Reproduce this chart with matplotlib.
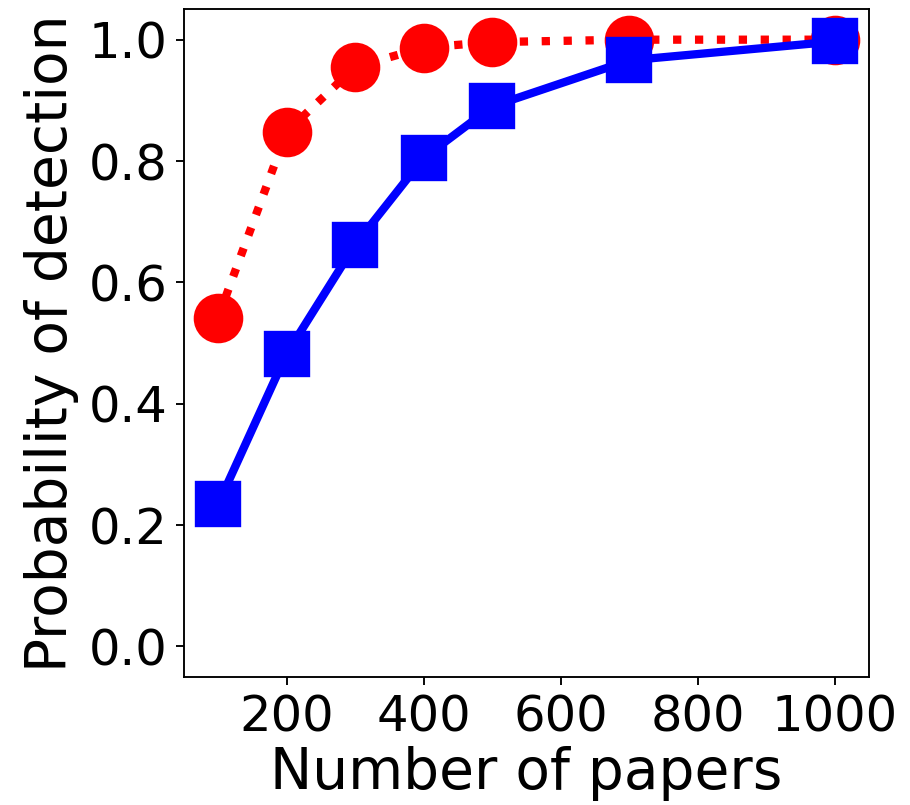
import matplotlib
matplotlib.use("Agg")
import matplotlib.pyplot as plt

n_papers = [100, 200, 300, 400, 500, 700, 1000]
prob_red = [0.542, 0.848, 0.955, 0.987, 0.996, 1.0, 1.0]
prob_blue = [0.234, 0.482, 0.662, 0.805, 0.890, 0.966, 0.997]

DPI = 170
fig = plt.figure(figsize=(911 / DPI, 805 / DPI), dpi=DPI)
ax = fig.add_axes([0.2017, 0.1594, 0.9542 - 0.2017, 0.9884 - 0.1594])

ax.plot(n_papers, prob_red, color='red', linestyle=':', linewidth=3.5,
        marker='o', markersize=20)
ax.plot(n_papers, prob_blue, color='blue', linestyle='-', linewidth=3.5,
        marker='s', markersize=18.5)

ax.set_xlim(50, 1050)
ax.set_ylim(-0.05, 1.05)
ax.set_xticks([200, 400, 600, 800, 1000])
ax.set_yticks([0.0, 0.2, 0.4, 0.6, 0.8, 1.0])
ax.tick_params(labelsize=21)
ax.set_xlabel("Number of papers", fontsize=24, labelpad=2)
ax.set_ylabel("Probability of detection", fontsize=24)

fig.savefig("out.png", dpi=DPI)
